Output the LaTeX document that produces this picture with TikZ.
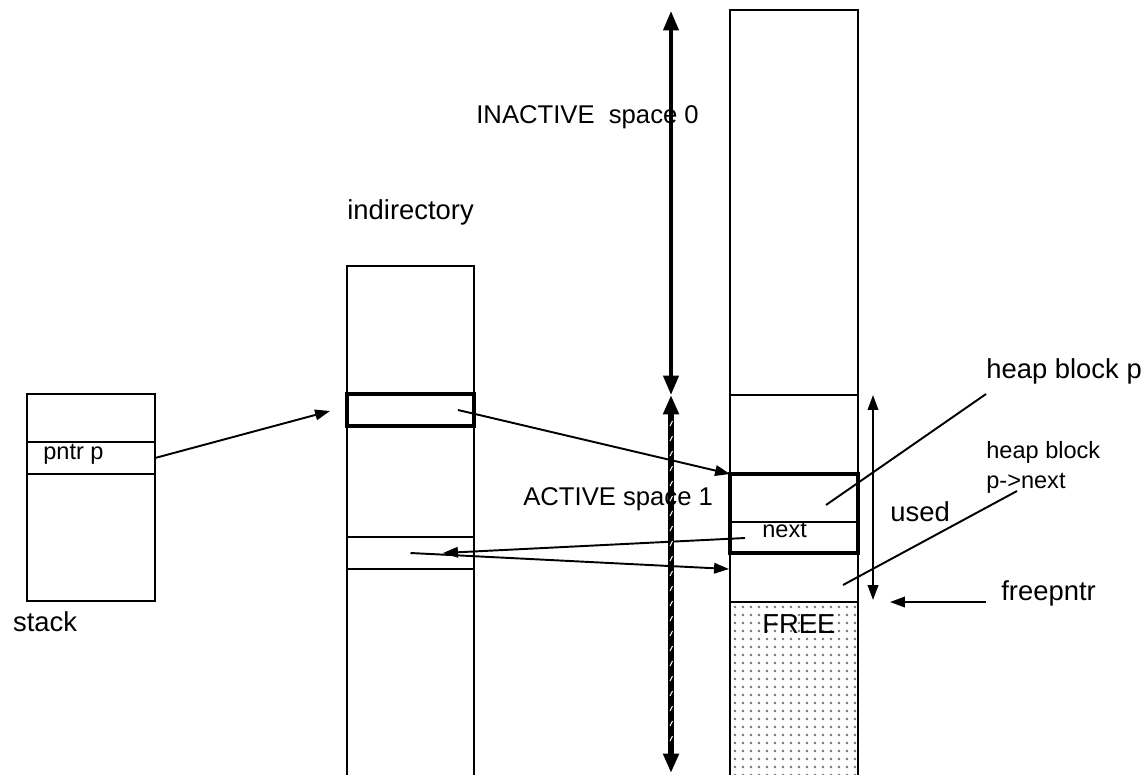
\documentclass[tikz,border=0pt]{standalone}
\usepackage{fontspec}
\setmainfont{Liberation Sans}
\usetikzlibrary{arrows.meta}

\begin{document}
\begin{tikzpicture}[x=0.02cm, y=-0.02cm]
\useasboundingbox (0,0) rectangle (1148,774);
\clip (0,0) rectangle (1148,774);
% memory columns and cells
\begin{scope}[every node/.style={rectangle,draw,line width=1.1pt,inner sep=0pt,outer sep=0pt},
              thick_cell/.style={line width=2.3pt}]
    \node[minimum width=2.56cm, minimum height=4.14cm] (stack) at (91, 497.5) {};
    \node[minimum width=2.56cm, minimum height=0.64cm] (pntr) at (91, 458) {};
    \node[minimum width=2.54cm, minimum height=10.48cm] (dir) at (410.5, 528) {};
    \node[minimum width=2.54cm, minimum height=0.64cm, thick_cell] (dirp) at (410.5, 410) {};
    \node[minimum width=2.54cm, minimum height=0.64cm] (dirn) at (410.5, 553) {};
    \node[minimum width=2.56cm, minimum height=15.6cm] (heap) at (794, 400) {};
    \node[minimum width=2.56cm, minimum height=7.9cm] (active) at (794, 592.5) {};
    \node[minimum width=2.56cm, minimum height=3.76cm] (free) at (794, 696) {};
    \node[minimum width=2.56cm, minimum height=0.62cm] (nextcell) at (794, 537.5) {};
    \node[minimum width=2.56cm, minimum height=1.58cm, thick_cell] (blockp) at (794, 513.5) {};
\end{scope}
% dotted free area
\foreach \i in {0,...,15}
    \foreach \j in {0,...,21}
        \fill[black!55] ({735+\i*8}, {607+\j*8}) circle (0.75pt);
\draw[line width=1.1pt] (free.north west) -- (free.north east);
% labels
\begin{scope}[every node/.style={anchor=base west,inner sep=0pt},
              big_lbl/.style={font=\fontsize{15.6}{18}\selectfont},
              mid_lbl/.style={font=\fontsize{14.6}{17}\selectfont},
              small_lbl/.style={font=\fontsize{13.4}{16}\selectfont}]
    \node[big_lbl] (stacklbl) at (12.7, 631.7) {stack};
    \node[small_lbl] (pntrlbl) at (43, 459) {pntr p};
    \node[big_lbl] (dirlbl) at (347, 219) {indirectory};
    \node[mid_lbl] (inactive) at (476, 123) {INACTIVE\ \ space 0};
    \node[mid_lbl] (activelbl) at (523, 505.7) {ACTIVE space 1};
    \node[small_lbl] (nextlbl) at (762, 537) {next};
    \node[big_lbl] (freelbl) at (762, 633) {FREE};
    \node[big_lbl] (hbp) at (986, 378) {heap block p};
    \node[small_lbl] (hbn) at (986, 458) {heap block};
    \node[small_lbl] (hbnext) at (986, 488) {p->next};
    \node[big_lbl] (used) at (890, 521.7) {used};
    \node[big_lbl] (freepntr) at (1001, 600) {freepntr};
\end{scope}
% connector ends
\coordinate (dirpIn) at (330, 411);
\coordinate (dirpOut) at (458, 410);
\coordinate (nextOut) at (745, 538);
\coordinate (dirnIn) at (443, 553);
\coordinate (nextblk) at (729, 569);
\coordinate (usedTop) at (873, 395);
\coordinate (usedBot) at (873, 600);
\coordinate (fpOut) at (986, 602);
\coordinate (fpIn) at (890, 602);
\coordinate (hbpOut) at (986, 394);
\coordinate (hbpIn) at (826, 505);
\coordinate (hbnOut) at (1017, 491);
\coordinate (hbnIn) at (843, 585);
\coordinate (spaceTop) at (671, 11);
\coordinate (spaceMid) at (671, 395);
\coordinate (spaceBot) at (671, 773);
\begin{scope}[>={Triangle[length=8.5pt,width=6pt]},
              ptr_edge/.style={draw=black,line width=1.1pt},
              space_edge/.style={draw=black,line width=2.3pt,
                  >={Triangle[length=11pt,width=8.5pt]}}]
    \path [->] (pntr.east) edge [ptr_edge] (dirpIn);
    \path [->] (dirpOut) edge [ptr_edge] (blockp.north west);
    \path [->] (nextOut) edge [ptr_edge] (dirnIn);
    \path [->] (dirn.center) edge [ptr_edge] (nextblk);
    \path [<->] (usedTop) edge [ptr_edge] (usedBot);
    \path [->] (fpOut) edge [ptr_edge] (fpIn);
    \path (hbpOut) edge [ptr_edge] (hbpIn);
    \path (hbnOut) edge [ptr_edge] (hbnIn);
    \path [<->] (spaceTop) edge [space_edge] (spaceMid);
    \path [<->] (spaceMid) edge [space_edge,line width=3.6pt] (spaceBot);
\end{scope}
% hatching on the active space arrow
\foreach \k in {0,...,21}
    \draw[white,line width=0.6pt] ({670}, {426+\k*15}) -- ({672.5}, {421+\k*15});
\end{tikzpicture}
\end{document}
